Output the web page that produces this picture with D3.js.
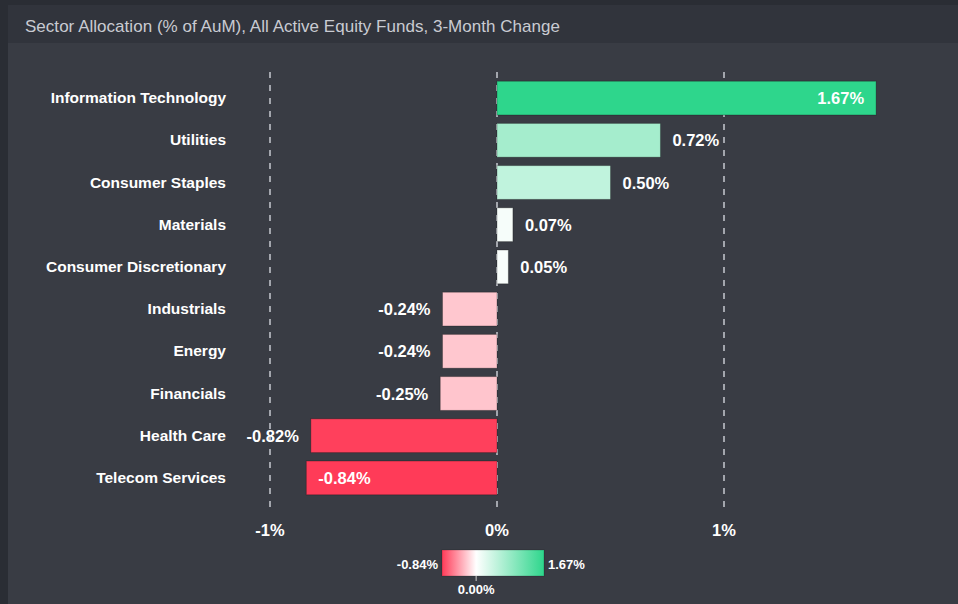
<!DOCTYPE html>
<html>
<head>
<meta charset="utf-8">
<script src="https://cdn.jsdelivr.net/npm/d3@7"></script>
<style>
  body { margin: 0; background: #393c44; }
  text { font-family: Arial, "Liberation Sans", sans-serif; }
</style>
</head>
<body>
<svg id="chart" width="958" height="604"></svg>
<script>
var sectors = ['Information Technology', 'Utilities', 'Consumer Staples', 'Materials', 'Consumer Discretionary',
  'Industrials', 'Energy', 'Financials', 'Health Care', 'Telecom Services'];
var changes = [1.67, 0.72, 0.50, 0.07, 0.05, -0.24, -0.24, -0.25, -0.82, -0.84];
var ticks = [-1, 0, 1];
var title = 'Sector Allocation (% of AuM), All Active Equity Funds, 3-Month Change';

var svg = d3.select('#chart');
var W = 958, H = 604;

svg.append('rect').attr('width', W).attr('height', H).attr('fill', '#393c44');
svg.append('rect').attr('width', W).attr('height', 5).attr('fill', '#2a2d34');
svg.append('rect').attr('x', 8).attr('y', 5).attr('width', W - 8).attr('height', 38).attr('fill', '#31343c');
svg.append('rect').attr('width', 8).attr('height', H).attr('fill', '#2a2d34');
svg.append('text').attr('x', 25).attr('y', 32).attr('fill', '#c9cbd2')
  .style('font-size', '17px').attr('textLength', 535).text(title);

var x = d3.scaleLinear().domain([-1, 1]).range([270, 724]);
var y = d3.scaleBand().domain(sectors).range([77, 499]).paddingInner(0.2).paddingOuter(0.1);
var color = d3.scaleLinear().domain([d3.min(changes), 0, d3.max(changes)])
  .range(['#ff3b58', '#ffffff', '#2ed68c']);

// grid
svg.selectAll('line.grid').data(ticks).enter().append('line')
  .attr('class', 'grid')
  .attr('x1', function(d){ return x(d); }).attr('x2', function(d){ return x(d); })
  .attr('y1', 72).attr('y2', 510)
  .attr('stroke', '#a3a6ad').attr('stroke-width', 2).attr('stroke-dasharray', '6,7');

var fmt = function(v){ return v.toFixed(2) + '%'; };
var data = sectors.map(function(s, i){ return {name: s, v: changes[i]}; });

// bars
svg.selectAll('rect.bar').data(data).enter().append('rect')
  .attr('class', 'bar')
  .attr('x', function(d){ return x(Math.min(0, d.v)); })
  .attr('y', function(d){ return y(d.name); })
  .attr('width', function(d){ return Math.abs(x(d.v) - x(0)); })
  .attr('height', y.bandwidth())
  .attr('fill', function(d){ return color(d.v); })
  .attr('stroke', 'rgba(0,0,0,0.25)').attr('stroke-width', 1);

// category labels
svg.selectAll('text.cat').data(data).enter().append('text')
  .attr('class', 'cat')
  .attr('x', 226)
  .attr('y', function(d){ return y(d.name) + y.bandwidth() / 2 + 5; })
  .attr('text-anchor', 'end').attr('fill', '#ffffff')
  .style('font-size', '15.5px').style('font-weight', 'bold')
  .text(function(d){ return d.name; });

// value labels
svg.selectAll('text.val').data(data).enter().append('text')
  .attr('class', 'val')
  .attr('x', function(d){
    if (d.v === d3.max(changes)) return x(d.v) - 12;
    if (d.v === d3.min(changes)) return x(d.v) + 12;
    return d.v >= 0 ? x(d.v) + 12 : x(d.v) - 12;
  })
  .attr('y', function(d){ return y(d.name) + y.bandwidth() / 2 + 6; })
  .attr('text-anchor', function(d){
    if (d.v === d3.max(changes)) return 'end';
    if (d.v === d3.min(changes)) return 'start';
    return d.v >= 0 ? 'start' : 'end';
  })
  .attr('fill', '#ffffff')
  .style('font-size', '16.5px').style('font-weight', 'bold')
  .text(function(d){ return fmt(d.v); });

// axis tick labels
svg.selectAll('text.tick').data(ticks).enter().append('text')
  .attr('class', 'tick')
  .attr('x', function(d){ return x(d); }).attr('y', 536)
  .attr('text-anchor', 'middle').attr('fill', '#ffffff')
  .style('font-size', '16.5px').style('font-weight', 'bold')
  .text(function(d){ return d + '%'; });

// legend
var lg = d3.scaleLinear().domain([d3.min(changes), d3.max(changes)]).range([442, 544]);
var defs = svg.append('defs');
var grad = defs.append('linearGradient').attr('id', 'lgGrad');
[d3.min(changes), 0, d3.max(changes)].forEach(function(v){
  grad.append('stop')
    .attr('offset', ((lg(v) - 442) / 102 * 100) + '%')
    .attr('stop-color', color(v));
});
svg.append('rect').attr('x', 442).attr('y', 550).attr('width', 102).attr('height', 26)
  .attr('fill', 'url(#lgGrad)').attr('stroke', 'rgba(0,0,0,0.2)');
svg.append('line').attr('x1', lg(0)).attr('x2', lg(0)).attr('y1', 576).attr('y2', 581)
  .attr('stroke', '#cccccc');
svg.append('text').attr('x', 438).attr('y', 569).attr('text-anchor', 'end')
  .attr('fill', '#ffffff').style('font-size', '13px').style('font-weight', 'bold').text(fmt(d3.min(changes)));
svg.append('text').attr('x', 548).attr('y', 569).attr('text-anchor', 'start')
  .attr('fill', '#ffffff').style('font-size', '13px').style('font-weight', 'bold').text(fmt(d3.max(changes)));
svg.append('text').attr('x', lg(0)).attr('y', 594).attr('text-anchor', 'middle')
  .attr('fill', '#ffffff').style('font-size', '13px').style('font-weight', 'bold').text(fmt(0));
</script>
</body>
</html>
